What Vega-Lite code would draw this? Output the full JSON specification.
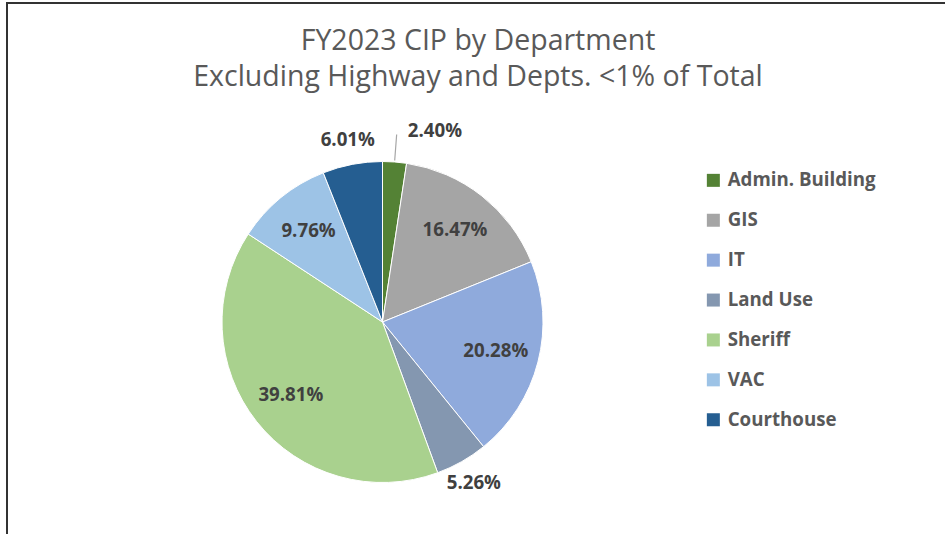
{
  "$schema": "https://vega.github.io/schema/vega-lite/v6.json",
  "autosize": {"type": "none"},
  "padding": {"left": 7, "top": 3, "right": 0, "bottom": 0},
  "width": 942,
  "height": 560,
  "background": "white",
  "title": {
    "text": ["FY2023 CIP by Department", "Excluding Highway and Depts. <1% of Total"],
    "anchor": "middle",
    "frame": "group",
    "font": "Open Sans",
    "fontSize": 28.5,
    "fontWeight": "normal",
    "color": "#595959",
    "lineHeight": 36,
    "offset": -88
  },
  "data": {
    "values": [
      {"dept": "Admin. Building", "value": 0.0240, "order": 1},
      {"dept": "GIS", "value": 0.1647, "order": 2},
      {"dept": "IT", "value": 0.2028, "order": 3},
      {"dept": "Land Use", "value": 0.0526, "order": 4},
      {"dept": "Sheriff", "value": 0.3981, "order": 5},
      {"dept": "VAC", "value": 0.0976, "order": 6},
      {"dept": "Courthouse", "value": 0.0601, "order": 7}
    ]
  },
  "encoding": {
    "theta": {"field": "value", "type": "quantitative", "stack": true},
    "order": {"field": "order", "type": "quantitative"},
    "x": {"value": 375.5},
    "y": {"value": 319}
  },
  "layer": [
    {
      "mark": {"type": "arc", "outerRadius": 160.5, "stroke": "white", "strokeWidth": 1},
      "encoding": {
        "color": {
          "field": "dept",
          "type": "nominal",
          "scale": {
            "domain": ["Admin. Building", "GIS", "IT", "Land Use", "Sheriff", "VAC", "Courthouse"],
            "range": ["#548235", "#A5A5A5", "#8FAADC", "#8497B0", "#A9D18E", "#9DC3E6", "#255E91"]
          },
          "legend": {"title": null}
        }
      }
    },
    {
      "mark": {"type": "arc", "innerRadius": 162, "outerRadius": 188, "padAngle": 1, "filled": false, "stroke": "#A6A6A6", "strokeWidth": 1.2},
      "encoding": {
        "strokeOpacity": {"condition": {"test": "datum.dept === 'Admin. Building'", "value": 1}, "value": 0}
      }
    },
    {
      "mark": {"type": "text", "radius": 117, "font": "Open Sans", "fontWeight": "bold", "fontSize": 18.7, "fill": "#404040"},
      "encoding": {
        "text": {"condition": {"test": "datum.value < 0.07", "value": ""}, "field": "value", "type": "quantitative", "format": ".2%"}
      }
    },
    {
      "mark": {"type": "text", "radius": 185, "font": "Open Sans", "fontWeight": "bold", "fontSize": 18.7, "fill": "#404040"},
      "encoding": {
        "text": {"condition": {"test": "datum.value >= 0.07 || datum.value < 0.03", "value": ""}, "field": "value", "type": "quantitative", "format": ".2%"}
      }
    },
    {
      "mark": {"type": "text", "radius": 192, "dx": 38, "font": "Open Sans", "fontWeight": "bold", "fontSize": 18.7, "fill": "#404040"},
      "encoding": {
        "text": {"condition": {"test": "datum.value >= 0.03", "value": ""}, "field": "value", "type": "quantitative", "format": ".2%"}
      }
    }
  ],
  "config": {
    "view": {"stroke": "#333333", "strokeWidth": 2},
    "legend": {
      "orient": "none",
      "legendX": 697,
      "legendY": 168,
      "padding": 0,
      "symbolType": "square",
      "symbolSize": 169,
      "symbolStrokeWidth": 0,
      "labelFont": "Open Sans",
      "labelFontWeight": "bold",
      "labelFontSize": 18.7,
      "labelColor": "#595959",
      "labelOffset": 5,
      "rowPadding": 19.9,
      "labelLimit": 300
    }
  }
}
